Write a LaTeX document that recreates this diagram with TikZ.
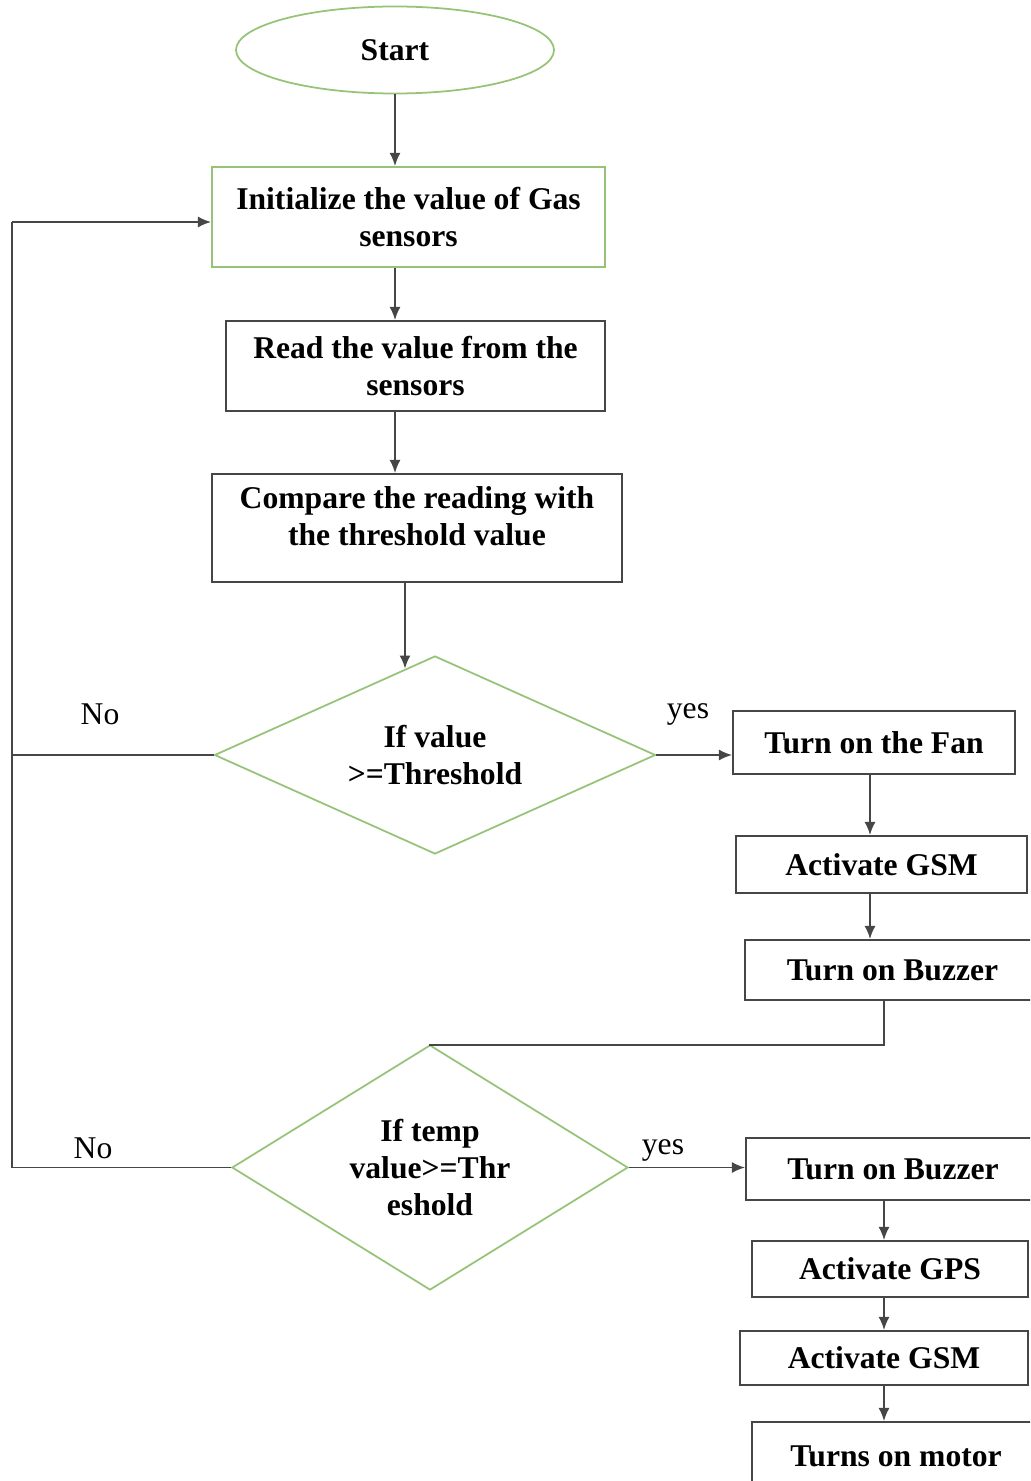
\documentclass[tikz,border=0pt]{standalone}
\usepackage{fontspec}
\setmainfont{Liberation Serif}
\usetikzlibrary{shapes.geometric,arrows.meta}
\definecolor{boxgreen}{RGB}{150,195,120}
\definecolor{linegray}{RGB}{70,70,70}
\begin{document}
\begin{tikzpicture}[every node/.style={font=\fontsize{18}{21}\selectfont\bfseries,align=center},
  box/.style={draw=linegray,line width=1.2pt,rectangle,inner sep=2pt},
  greenbox/.style={box,draw=boxgreen},
  term/.style={ellipse,draw=boxgreen,line width=1pt},
  decision/.style={diamond,draw=boxgreen,line width=1pt,aspect=1.6,inner sep=0pt},
  lbl/.style={font=\fontsize{18}{20}\selectfont},
  arr/.style={draw=linegray,line width=0.9pt,-{Latex[length=2.6mm,width=2.2mm]}},
  ln/.style={draw=linegray,line width=1.1pt}
  ]
    \useasboundingbox (0,0) rectangle (20.6,-29.62);
    \clip (0,0) rectangle (20.6,-29.62);

    \node[term,minimum width=6.36cm,minimum height=1.74cm] (start) at (7.9,-1.0) {Start};
    \node[greenbox,minimum width=7.86cm,minimum height=2cm] (init) at (8.17,-4.34) {Initialize the value of Gas\\ sensors};
    \node[box,minimum width=7.58cm,minimum height=1.8cm] (read) at (8.31,-7.32) {Read the value from the\\ sensors};
    \node[box,minimum width=8.2cm,minimum height=2.16cm] (cmp) at (8.34,-10.56) {Compare the reading with\\ the threshold value\rule[-14pt]{0pt}{0pt}};
    \node[decision,minimum width=8.82cm,minimum height=3.96cm] (gas) at (8.7,-15.1) {If value\\ {>}=Threshold};
    \node[box,minimum width=5.64cm,minimum height=1.26cm] (fan) at (17.48,-14.85) {Turn on the Fan};
    \node[box,minimum width=5.82cm,minimum height=1.14cm] (gsma) at (17.63,-17.29) {Activate GSM};
    \node[box,minimum width=5.9cm,minimum height=1.2cm] (buzza) at (17.85,-19.4) {Turn on Buzzer};
    \node[decision,minimum width=7.92cm,minimum height=4.9cm] (temp) at (8.6,-23.35) {If temp\\ value{>}=Thr\\ eshold};
    \node[box,minimum width=5.88cm,minimum height=1.24cm] (buzzb) at (17.86,-23.38) {Turn on Buzzer};
    \node[box,minimum width=5.52cm,minimum height=1.12cm] (gps) at (17.8,-25.38) {Activate GPS};
    \node[box,minimum width=5.76cm,minimum height=1.08cm] (gsmb) at (17.68,-27.16) {Activate GSM};
    \node[box,minimum width=5.76cm,minimum height=1.36cm] (motor) at (17.92,-29.12) {Turns on motor};

    \node[lbl] (noa) at (2.0,-14.28) {No};
    \node[lbl] (yesa) at (13.76,-14.28) {yes};
    \node[lbl] (nob) at (1.86,-22.96) {No};
    \node[lbl] (yesb) at (13.26,-23.0) {yes};

    \coordinate (gasin) at (8.1,-13.37);
    \coordinate (loopa) at (0.24,-15.1);
    \coordinate (loopb) at (0.24,-23.35);
    \coordinate (loopc) at (0.24,-4.44);
    \coordinate (joina) at (17.68,-20.9);

    \draw[arr] (start.south) -- (start.south |- init.north);
    \draw[arr] (init.south -| start.south) -- (read.north -| start.south);
    \draw[arr] (read.south -| start.south) -- (cmp.north -| start.south);
    \draw[arr] (cmp.south -| gasin) -- (gasin);
    \draw[arr] (gas.east) -- (gas.east -| fan.west);
    \draw[arr] (fan.south -| 17.4,0) -- (gsma.north -| 17.4,0);
    \draw[arr] (gsma.south -| 17.4,0) -- (buzza.north -| 17.4,0);
    \draw[ln] (buzza.south -| joina) -- (joina) -- (joina -| temp.north) -- (temp.north);
    \draw[arr] (temp.east) -- (temp.east -| buzzb.west);
    \draw[arr] (buzzb.south -| joina) -- (gps.north -| joina);
    \draw[arr] (gps.south -| joina) -- (gsmb.north -| joina);
    \draw[arr] (gsmb.south -| joina) -- (motor.north -| joina);
    \draw[ln] (gas.west) -- (loopa);
    \draw[ln] (temp.west) -- (loopb) -- (loopc);
    \draw[arr] (loopc) -- (loopc -| init.west);
\end{tikzpicture}
\end{document}
